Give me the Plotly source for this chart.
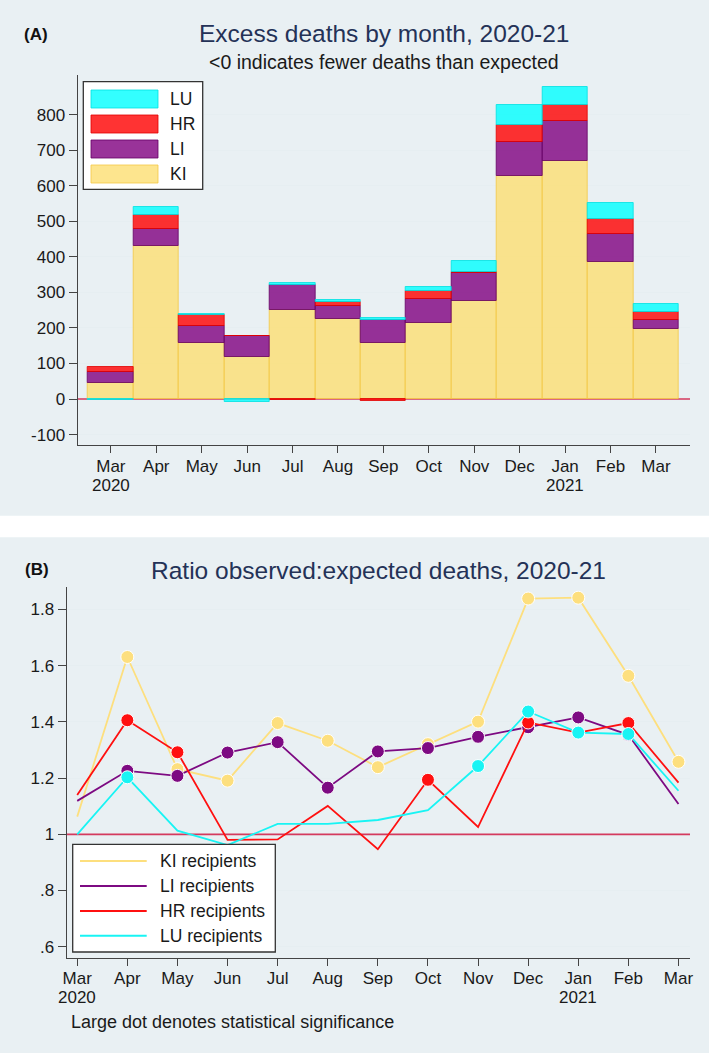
import plotly.graph_objects as go

# ---------------- data ----------------
month_idx = list(range(13))
month_labels = ["Mar", "Apr", "May", "Jun", "Jul", "Aug", "Sep", "Oct",
                "Nov", "Dec", "Jan", "Feb", "Mar"]
year_labels = {0: "2020", 10: "2021"}

# Panel A: excess deaths by month (stacked)
excess_KI = [46, 430, 157, 117, 250, 225, 157, 214, 275, 627, 671, 385, 198]
excess_LI = [29, 48, 48, 60, 71, 36, 65, 68, 80, 96, 110, 79, 25]
excess_HR = [15, 40, 32, 0, -4, 13, -6, 21, 2, 49, 45, 43, 21]
excess_LU = [-3, 23, 2, -7, 5, 4, 5, 11, 30, 55, 53, 45, 22]

# Panel B: ratio observed:expected deaths
ratio_KI = [1.063, 1.631, 1.232, 1.191, 1.396, 1.333, 1.239, 1.321, 1.401, 1.839, 1.842, 1.564, 1.258]
ratio_LI = [1.119, 1.226, 1.208, 1.291, 1.328, 1.166, 1.295, 1.307, 1.347, 1.381, 1.416, 1.354, 1.108]
ratio_HR = [1.140, 1.406, 1.292, 0.980, 0.982, 1.101, 0.947, 1.194, 1.026, 1.398, 1.362, 1.396, 1.184]
ratio_LU = [1.000, 1.203, 1.013, 0.962, 1.037, 1.037, 1.051, 1.086, 1.243, 1.437, 1.362, 1.357, 1.155]

# statistical significance (1 = large dot)
sig_KI = [0, 1, 1, 1, 1, 1, 1, 1, 1, 1, 1, 1, 1]
sig_LI = [0, 1, 1, 1, 1, 1, 1, 1, 1, 1, 1, 1, 0]
sig_HR = [0, 1, 1, 0, 0, 0, 0, 1, 0, 1, 0, 1, 0]
sig_LU = [0, 1, 0, 0, 0, 0, 0, 0, 1, 1, 1, 1, 0]

groups = ["KI", "LI", "HR", "LU"]

# ---------------- styles ----------------
W, H = 709, 1053
FONT = "Liberation Sans, Arial, sans-serif"
BG = "#E9F0F3"
GRID = "#E6EEF1"
AXIS = "#444444"
REFLINE = "#D43A5E"
TITLE_C = "#243257"
TEXT_C = "#1a1a1a"

bar_fill = {"KI": "rgba(252,222,114,0.8)", "LI": "rgba(128,0,128,0.8)",
            "HR": "rgba(255,0,0,0.8)", "LU": "rgba(0,255,255,0.8)"}
bar_edge = {"KI": "rgba(244,200,70,0.8)", "LI": "rgba(100,0,100,0.8)",
            "HR": "rgba(225,0,0,0.8)", "LU": "rgba(0,225,225,0.8)"}
line_col = {"KI": "#FDDF7E", "LI": "#7D0A82", "HR": "#FF1010", "LU": "#18F4F4"}


def px(x):
    return x / W


def py(y):
    return 1 - y / H


fig = go.Figure()

excess = {"KI": excess_KI, "LI": excess_LI, "HR": excess_HR, "LU": excess_LU}
ratio = {"KI": ratio_KI, "LI": ratio_LI, "HR": ratio_HR, "LU": ratio_LU}
sig = {"KI": sig_KI, "LI": sig_LI, "HR": sig_HR, "LU": sig_LU}

for g in groups:
    fig.add_trace(go.Bar(
        x=month_idx, y=excess[g], name=g, width=1.0,
        marker=dict(color=bar_fill[g], line=dict(color=bar_edge[g], width=1)),
        xaxis="x", yaxis="y", showlegend=False, hoverinfo="x+y+name"))

for g in groups:
    fig.add_trace(go.Scatter(
        x=month_idx, y=ratio[g], name=g + " recipients", mode="lines+markers",
        line=dict(color=line_col[g], width=1.8),
        marker=dict(color=line_col[g], opacity=1,
                    size=[13 if s else 0 for s in sig[g]]),
        xaxis="x2", yaxis="y2", showlegend=False))

axis_common = dict(showline=True, linecolor=AXIS, linewidth=1.3, ticks="outside",
                   tickcolor=AXIS, tickwidth=1.3, zeroline=False, automargin=False,
                   tickfont=dict(family=FONT, size=17, color=TEXT_C))

xrA = [-0.73, 12.75]
xrB = [-0.21, 12.23]
a_top, a_bot = 75, 445
b_top, b_bot = 587.3, 957.7

fig.update_layout(
    width=W, height=H, margin=dict(l=0, r=0, t=0, b=0, autoexpand=False),
    paper_bgcolor="white", plot_bgcolor="white",
    barmode="relative", bargap=0,
    xaxis=dict(domain=[px(77.7), px(690)], range=xrA, anchor="y",
               tickvals=month_idx, ticktext=month_labels, ticklen=7,
               ticklabelstandoff=-2, showgrid=False, **axis_common),
    yaxis=dict(domain=[py(a_bot), py(a_top)], range=[-129.4, 911.6], anchor="x",
               tickvals=[-100, 0, 100, 200, 300, 400, 500, 600, 700, 800],
               ticktext=["-100", "0", "100", "200", "300", "400", "500", "600", "700", "800"],
               ticklen=8, showgrid=True, gridcolor=GRID, gridwidth=1.3, **axis_common),
    xaxis2=dict(domain=[px(66.7), px(690)], range=xrB, anchor="y2",
                tickvals=month_idx, ticktext=month_labels, ticklen=7,
                ticklabelstandoff=-2, showgrid=False, **axis_common),
    yaxis2=dict(domain=[py(b_bot), py(b_top)], range=[0.561, 1.879], anchor="x2",
                tickvals=[0.6, 0.8, 1.0, 1.2, 1.4, 1.6, 1.8],
                ticktext=[".6", ".8", "1", "1.2", "1.4", "1.6", "1.8"],
                ticklen=8, showgrid=True, gridcolor=GRID, gridwidth=1.3, **axis_common),
)

shapes = []
# panel backgrounds
shapes.append(dict(type="rect", xref="paper", yref="paper", x0=0, x1=1,
                   y0=py(515.7), y1=1, fillcolor=BG, line=dict(width=0), layer="below"))
shapes.append(dict(type="rect", xref="paper", yref="paper", x0=0, x1=1,
                   y0=0, y1=py(537.3), fillcolor=BG, line=dict(width=0), layer="below"))
# reference lines (between gridlines and traces)
shapes.append(dict(type="line", xref="x", yref="y", x0=xrA[0], x1=xrA[1], y0=0, y1=0,
                   line=dict(color=REFLINE, width=1.6), layer="between"))
shapes.append(dict(type="line", xref="x2", yref="y2", x0=xrB[0], x1=xrB[1], y0=1, y1=1,
                   line=dict(color=REFLINE, width=1.6), layer="between"))

annotations = []

# year labels under tick labels
for i, yr in year_labels.items():
    annotations.append(dict(text=yr, xref="x", yref="paper", x=i, y=py(485),
                            xanchor="center", yanchor="middle", showarrow=False,
                            font=dict(family=FONT, size=17, color=TEXT_C)))
    annotations.append(dict(text=yr, xref="x2", yref="paper", x=i, y=py(997),
                            xanchor="center", yanchor="middle", showarrow=False,
                            font=dict(family=FONT, size=17, color=TEXT_C)))

# ---- legend A (custom, Stata-like) ----
shapes.append(dict(type="rect", xref="paper", yref="paper", x0=px(83.3), x1=px(202.7),
                   y0=py(189.3), y1=py(81.7), fillcolor="white",
                   line=dict(color="#333333", width=1.3)))
legA_rows = {"LU": 99, "HR": 124, "LI": 149, "KI": 174}
for g in ["LU", "HR", "LI", "KI"]:
    yc = legA_rows[g]
    shapes.append(dict(type="rect", xref="paper", yref="paper", x0=px(91), x1=px(158),
                       y0=py(yc + 9), y1=py(yc - 9), fillcolor=bar_fill[g],
                       line=dict(color=bar_edge[g], width=1)))
    annotations.append(dict(text=g, xref="paper", yref="paper", x=px(168), y=py(yc),
                            xanchor="left", yanchor="middle", showarrow=False,
                            font=dict(family=FONT, size=17.5, color=TEXT_C)))

# ---- legend B ----
shapes.append(dict(type="rect", xref="paper", yref="paper", x0=px(72.7), x1=px(275.3),
                   y0=py(952), y1=py(844.3), fillcolor="white",
                   line=dict(color="#333333", width=1.3)))
legB_rows = {"KI": 861, "LI": 886, "HR": 911, "LU": 935.7}
for g in groups:
    yc = legB_rows[g]
    shapes.append(dict(type="line", xref="paper", yref="paper", x0=px(80), x1=px(146.7),
                       y0=py(yc), y1=py(yc), line=dict(color=line_col[g], width=2)))
    annotations.append(dict(text=g + " recipients", xref="paper", yref="paper",
                            x=px(157.5), y=py(yc), xanchor="left", yanchor="middle",
                            showarrow=False, font=dict(family=FONT, size=17.5, color=TEXT_C)))

# ---- titles ----
annotations += [
    dict(text="<b>(A)</b>", xref="paper", yref="paper", x=px(35.5), y=py(35),
         xanchor="center", yanchor="middle", showarrow=False,
         font=dict(family=FONT, size=17, color="#111111")),
    dict(text="Excess deaths by month, 2020-21", xref="paper", yref="paper",
         x=px(383.9), y=py(33), xanchor="center", yanchor="middle", showarrow=False,
         font=dict(family=FONT, size=24.5, color=TITLE_C)),
    dict(text="<0 indicates fewer deaths than expected", xref="paper", yref="paper",
         x=px(383.5), y=py(62), xanchor="center", yanchor="middle", showarrow=False,
         font=dict(family=FONT, size=19.5, color=TEXT_C)),
    dict(text="<b>(B)</b>", xref="paper", yref="paper", x=px(36.7), y=py(569),
         xanchor="center", yanchor="middle", showarrow=False,
         font=dict(family=FONT, size=17, color="#111111")),
    dict(text="Ratio observed:expected deaths, 2020-21", xref="paper", yref="paper",
         x=px(378.3), y=py(570.5), xanchor="center", yanchor="middle", showarrow=False,
         font=dict(family=FONT, size=24.5, color=TITLE_C)),
    dict(text="Large dot denotes statistical significance", xref="paper", yref="paper",
         x=px(69), y=py(1022), xanchor="left", yanchor="middle", showarrow=False,
         font=dict(family=FONT, size=18, color=TEXT_C)),
]

fig.update_layout(shapes=shapes, annotations=annotations)
fig.write_html(
    "out.html",
    config={"displayModeBar": False},
    post_script="document.body.style.margin='0';document.body.style.padding='0';"
                "document.body.style.overflow='hidden';",
)
